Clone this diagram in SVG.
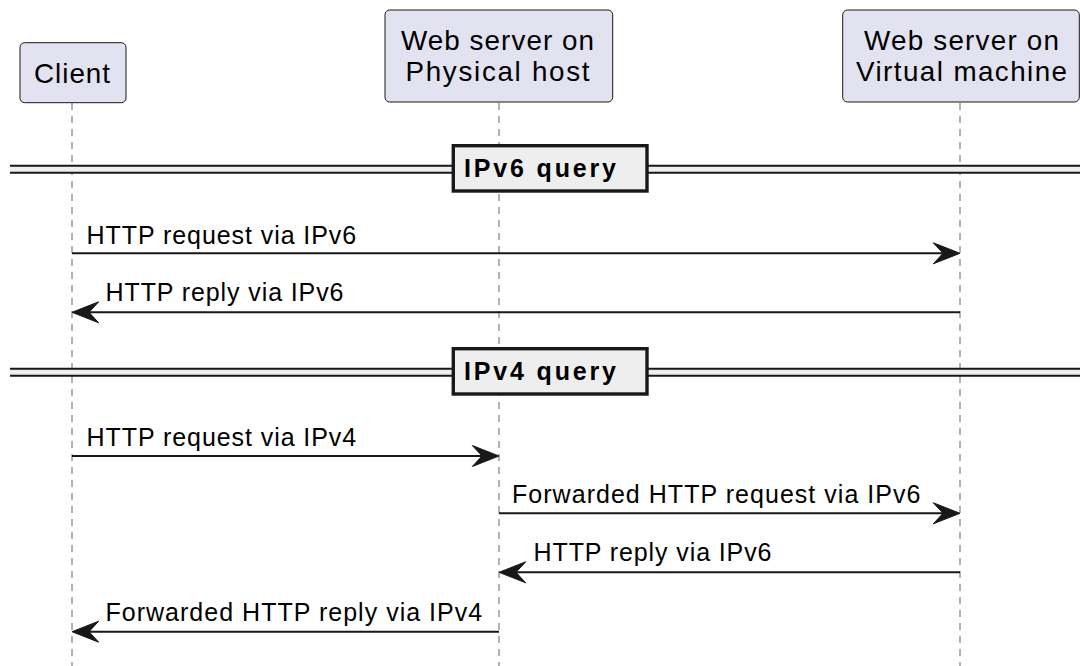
<svg xmlns="http://www.w3.org/2000/svg" width="1080" height="666" viewBox="0 0 1080 666">
<style>
.box{fill:#E2E2F0;stroke:#181818;stroke-width:1}
.life{stroke:#666;stroke-width:1;stroke-dasharray:7 6;fill:none}
.ptxt{font-family:"Liberation Sans",Arial,sans-serif;font-size:27.8px;fill:#000}
.mtxt{font-family:"Liberation Sans",Arial,sans-serif;font-size:25px;fill:#000}
.stxt{font-family:"Liberation Sans",Arial,sans-serif;font-size:25px;font-weight:bold;fill:#000}
.msg{stroke:#181818;stroke-width:2;fill:none}
.head{fill:#181818;stroke:#181818;stroke-width:1}
.sepband{fill:#EEEEEE;stroke:none}
.sepline{stroke:#181818;stroke-width:2}
.sepbox{fill:#EEEEEE;stroke:#181818;stroke-width:3.4}
</style>
<rect width="1080" height="666" fill="#ffffff"/>
<g id="lifelines">
<line class="life" x1="72" y1="103" x2="72" y2="666"/>
<line class="life" x1="499" y1="103" x2="499" y2="666"/>
<line class="life" x1="960" y1="103" x2="960" y2="666"/>
</g>
<g id="client">
<rect class="box" x="20" y="42.7" width="106" height="60" rx="4.7"/>
<text class="ptxt" x="72" y="82.5" text-anchor="middle" textLength="76" lengthAdjust="spacing">Client</text>
</g>
<g id="physical">
<rect class="box" x="385" y="10" width="227.7" height="92" rx="4.7"/>
<text class="ptxt" x="497.5" y="49.5" text-anchor="middle" textLength="193" lengthAdjust="spacing">Web server on</text>
<text class="ptxt" x="497.5" y="81" text-anchor="middle" textLength="184" lengthAdjust="spacing">Physical host</text>
</g>
<g id="vm">
<rect class="box" x="842.7" y="10" width="236.6" height="92" rx="4.7"/>
<text class="ptxt" x="961.5" y="49.5" text-anchor="middle" textLength="195" lengthAdjust="spacing">Web server on</text>
<text class="ptxt" x="961.5" y="81" text-anchor="middle" textLength="211" lengthAdjust="spacing">Virtual machine</text>
</g>
<g id="sep-ipv6">
<rect class="sepband" x="10" y="165.7" width="1075" height="7"/>
<line class="sepline" x1="10" y1="165.7" x2="1085" y2="165.7"/>
<line class="sepline" x1="10" y1="172.7" x2="1085" y2="172.7"/>
<rect class="sepbox" x="453.3" y="145.7" width="193.7" height="45.3"/>
<text class="stxt" x="464" y="177" textLength="152" lengthAdjust="spacing">IPv6 query</text>
</g>
<g id="sep-ipv4">
<rect class="sepband" x="10" y="368.7" width="1075" height="7"/>
<line class="sepline" x1="10" y1="368.7" x2="1085" y2="368.7"/>
<line class="sepline" x1="10" y1="375.7" x2="1085" y2="375.7"/>
<rect class="sepbox" x="453.3" y="348.7" width="193.7" height="45.3"/>
<text class="stxt" x="464" y="380" textLength="152" lengthAdjust="spacing">IPv4 query</text>
</g>
<g id="connectors">
<line class="msg" x1="72" y1="253.3" x2="946" y2="253.3"/>
<polygon class="head" points="960,253.3 933.3,242.8 943,253.3 933.3,263.8"/>
<text class="mtxt" x="86.5" y="243.5" textLength="269.7" lengthAdjust="spacing">HTTP request via IPv6</text>

<line class="msg" x1="960" y1="312.3" x2="86" y2="312.3"/>
<polygon class="head" points="72,312.3 98.7,301.8 89,312.3 98.7,322.8"/>
<text class="mtxt" x="105.5" y="301.3" textLength="238" lengthAdjust="spacing">HTTP reply via IPv6</text>

<line class="msg" x1="72" y1="456" x2="485" y2="456"/>
<polygon class="head" points="499,456 472.3,445.5 482,456 472.3,466.5"/>
<text class="mtxt" x="86.5" y="445.5" textLength="269.7" lengthAdjust="spacing">HTTP request via IPv4</text>

<line class="msg" x1="499" y1="513.3" x2="946" y2="513.3"/>
<polygon class="head" points="960,513.3 933.3,502.8 943,513.3 933.3,523.8"/>
<text class="mtxt" x="512" y="502.8" textLength="408.5" lengthAdjust="spacing">Forwarded HTTP request via IPv6</text>

<line class="msg" x1="960" y1="572.3" x2="513" y2="572.3"/>
<polygon class="head" points="499,572.3 525.7,561.8 516,572.3 525.7,582.8"/>
<text class="mtxt" x="533.5" y="561.3" textLength="238" lengthAdjust="spacing">HTTP reply via IPv6</text>

<line class="msg" x1="499" y1="631.7" x2="86" y2="631.7"/>
<polygon class="head" points="72,631.7 98.7,621.2 89,631.7 98.7,642.2"/>
<text class="mtxt" x="105.5" y="620.9" textLength="376.7" lengthAdjust="spacing">Forwarded HTTP reply via IPv4</text>
</g>
</svg>
